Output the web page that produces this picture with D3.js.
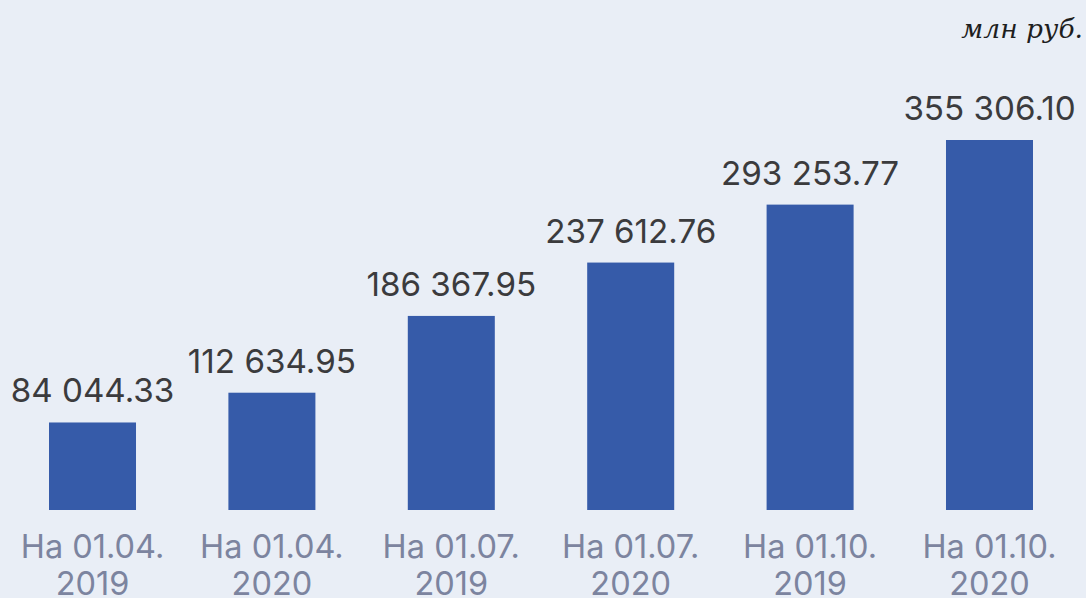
<!DOCTYPE html>
<html><head><meta charset="utf-8">
<script src="https://cdn.jsdelivr.net/npm/d3@7"></script>
<style>
html,body{margin:0;padding:0;background:#e9eef6;}
svg{display:block;}
</style></head>
<body>
<svg id="chart" width="1086" height="598"></svg>
<script>
const categories = ["На 01.04. 2019","На 01.04. 2020","На 01.07. 2019","На 01.07. 2020","На 01.10. 2019","На 01.10. 2020"];
const catLine1 = ["На 01.04.","На 01.04.","На 01.07.","На 01.07.","На 01.10.","На 01.10."];
const catLine2 = ["2019","2020","2019","2020","2019","2020"];
const values = [84044.33,112634.95,186367.95,237612.76,293253.77,355306.10];
const valueLabels = ["84 044.33","112 634.95","186 367.95","237 612.76","293 253.77","355 306.10"];
const unitLabel = "млн руб.";

const svg = d3.select("#chart");
const W = 1086, H = 598;
svg.append("rect").attr("width",W).attr("height",H).attr("fill","#e9eef6");

const baseY = 510;
const x = d3.scaleBand().domain(categories).range([49,1033]).paddingInner(0.515).paddingOuter(0);
const y = d3.scaleLinear().domain([0,355306.10]).range([baseY,140]);

svg.selectAll("rect.bar").data(values).enter().append("rect")
  .attr("class","bar")
  .attr("x",(d,i)=>x(categories[i]))
  .attr("width",x.bandwidth())
  .attr("y",d=>y(d))
  .attr("height",d=>baseY-y(d))
  .attr("fill","#365ba9");

svg.selectAll("text.val").data(values).enter().append("text")
  .attr("class","val")
  .attr("x",(d,i)=>x(categories[i])+x.bandwidth()/2)
  .attr("y",d=>y(d)-20)
  .attr("text-anchor","middle")
  .attr("font-family","Inter, 'Noto Sans', sans-serif")
  .attr("font-size",33.2)
  .attr("fill","#3b3b3d")
  .text((d,i)=>valueLabels[i]);

const xl = svg.selectAll("g.xl").data(categories).enter().append("g")
  .attr("class","xl")
  .attr("transform",(d)=>`translate(${x(d)+x.bandwidth()/2},0)`);
xl.append("text").attr("y",558).attr("text-anchor","middle")
  .attr("font-family","Inter, 'Noto Sans', sans-serif").attr("font-size",32.5)
  .attr("fill","#7c849f").text((d,i)=>catLine1[i]);
xl.append("text").attr("y",595).attr("text-anchor","middle")
  .attr("font-family","Inter, 'Noto Sans', sans-serif").attr("font-size",32.5)
  .attr("fill","#7c849f").text((d,i)=>catLine2[i]);

svg.append("text").attr("x",1083).attr("y",38).attr("text-anchor","end")
  .attr("font-family","'DejaVu Serif', 'Liberation Serif', serif").attr("font-style","italic")
  .attr("font-size",26.5).attr("fill","#1e1e1e").text(unitLabel);
</script>
</body></html>
